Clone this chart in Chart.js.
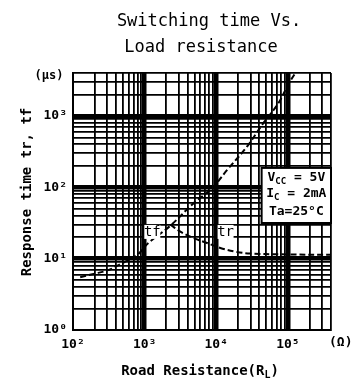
<!DOCTYPE html>
<html>
<head>
<meta charset="utf-8">
<script src="https://cdn.jsdelivr.net/npm/chart.js@4.4.0/dist/chart.umd.min.js"></script>
<style>
  html, body { margin: 0; padding: 0; background: #fff; }
  #wrap { width: 352px; height: 381px; position: relative; }
</style>
</head>
<body>
<div id="wrap"><canvas id="chart"></canvas></div>
<script>
// values: load resistance (ohm) vs response time (us)
const tfResistance = [126, 193, 311, 458, 791, 1130, 2290, 4830, 8730, 14200, 26900, 43600, 74000, 100000, 127000];
const tfTime = [5.5, 6.1, 6.9, 8.4, 11.3, 16.6, 29, 60, 97, 175, 372, 750, 1520, 2700, 4000];
const trResistance = [2290, 3160, 4790, 7430, 11400, 19500, 30000, 80000, 400000];
const trTime = [30, 23.9, 19.5, 16.6, 14.1, 12.4, 11.8, 11.5, 11.3];

const xRange = [100, 400000];
const yRange = [1, 4000];
const xTickLabels = {100: '10²', 1000: '10³', 10000: '10⁴', 100000: '10⁵'};
const yTickLabels = {1: '10⁰', 10: '10¹', 100: '10²', 1000: '10³'};

const MONO = '"DejaVu Sans Mono", monospace';

function isDecade(v) {
    const l = Math.log10(v);
    return Math.abs(l - Math.round(l)) < 1e-9;
}

// 1..9 x 10^n grid, like the printed log paper
function logPaperTicks(min, max) {
    const ticks = [];
    for (let e = Math.floor(Math.log10(min)); Math.pow(10, e) <= max; e++) {
        for (let m = 1; m <= 9; m++) {
            const v = m * Math.pow(10, e);
            if (v >= min && v <= max * 1.0001) ticks.push({value: v});
        }
    }
    return ticks;
}

function gridWidth(min) {
    return (c) => (c.tick && isDecade(c.tick.value) && c.tick.value !== min) ? 4.5 : 1.8;
}

// draws text pieces, some as subscripts, centred on cx
function drawRich(ctx, parts, cx, cy, size, weight) {
    const fontMain = weight + ' ' + size + 'px ' + MONO;
    const fontSub = weight + ' ' + Math.round(size * 0.7) + 'px ' + MONO;
    let total = 0;
    parts.forEach(p => {
        ctx.font = p[1] ? fontSub : fontMain;
        total += ctx.measureText(p[0]).width;
    });
    let x = cx - total / 2;
    ctx.textAlign = 'left';
    ctx.textBaseline = 'middle';
    parts.forEach(p => {
        ctx.font = p[1] ? fontSub : fontMain;
        ctx.fillText(p[0], x, p[1] ? cy + size * 0.3 : cy);
        x += ctx.measureText(p[0]).width;
    });
}

const textPlugin = {
    id: 'texts',
    afterDraw(chart) {
        const ctx = chart.ctx;
        const xs = chart.scales.x, ys = chart.scales.y;
        const area = chart.chartArea;
        ctx.save();
        ctx.fillStyle = '#000';

        ctx.font = '17px ' + MONO;
        ctx.textAlign = 'center';
        ctx.textBaseline = 'middle';
        ctx.fillText('Switching time Vs.', 209, 22);
        ctx.fillText('Load resistance', 201, 48);

        ctx.font = 'bold 12px ' + MONO;
        ctx.fillText('(µs)', 49, 76);
        ctx.textAlign = 'left';
        ctx.font = 'bold 13px ' + MONO;
        ctx.fillText('(Ω)', 329, 343);

        ctx.save();
        ctx.translate(27, 192);
        ctx.rotate(-Math.PI / 2);
        ctx.font = 'bold 14px ' + MONO;
        ctx.textAlign = 'center';
        ctx.fillText('Response time tr, tf', 0, 0);
        ctx.restore();

        drawRich(ctx, [['Road Resistance(R', false], ['L', true], [')', false]], 200, 371, 14, 'bold');

        // curve labels
        ctx.font = '14px ' + MONO;
        ctx.textAlign = 'center';
        [['tf', 1280], ['tr', 13500]].forEach(l => {
            const px = xs.getPixelForValue(l[1]), py = ys.getPixelForValue(23.7);
            ctx.fillStyle = '#fff';
            ctx.fillRect(px - 8, py - 7, 16, 14);
            ctx.fillStyle = '#000';
            ctx.fillText(l[0], px, py);
        });

        // test condition box
        const bx = xs.getPixelForValue(43000), by = ys.getPixelForValue(187);
        const bb = ys.getPixelForValue(31.6);
        ctx.fillStyle = '#fff';
        ctx.fillRect(bx, by, area.right - bx, bb - by);
        ctx.strokeStyle = '#000';
        ctx.lineWidth = 2;
        ctx.strokeRect(bx, by, area.right - bx, bb - by);
        ctx.fillStyle = '#000';
        const cx = (bx + area.right) / 2;
        drawRich(ctx, [['V', false], ['CC', true], [' = 5V', false]], cx, by + 10, 13, 'bold');
        drawRich(ctx, [['I', false], ['C', true], [' = 2mA', false]], cx, by + 26, 13, 'bold');
        drawRich(ctx, [['Ta=25°C', false]], cx, by + 44, 13, 'bold');
        ctx.restore();
    }
};

const lineStyle = {
    borderColor: '#000',
    borderWidth: 2,
    borderDash: [6, 3],
    pointRadius: 0,
    tension: 0.35,
    fill: false
};

const ctx = document.getElementById('chart').getContext('2d');
const chart = new Chart(ctx, {
    type: 'line',
    data: {
        datasets: [
            Object.assign({label: 'tf', data: tfResistance.map((r, i) => ({x: r, y: tfTime[i]}))}, lineStyle),
            Object.assign({label: 'tr', data: trResistance.map((r, i) => ({x: r, y: trTime[i]}))}, lineStyle)
        ]
    },
    options: {
        responsive: true,
        maintainAspectRatio: false,
        animation: false,
        layout: {padding: {top: 73, right: 21, left: 0, bottom: 0}},
        plugins: {legend: {display: false}, tooltip: {enabled: false}, title: {display: false}},
        scales: {
            x: {
                type: 'logarithmic',
                min: xRange[0],
                max: xRange[1],
                afterBuildTicks: (s) => { s.ticks = logPaperTicks(xRange[0], xRange[1]); },
                afterFit: (s) => { s.height = 51; },
                grid: {color: '#000', lineWidth: gridWidth(xRange[0]), drawTicks: false},
                border: {display: true, color: '#000', width: 2},
                ticks: {
                    autoSkip: false, maxRotation: 0, padding: 7, color: '#000',
                    font: {family: MONO, size: 13, weight: 'bold'},
                    callback: (v) => xTickLabels[v] || ''
                }
            },
            y: {
                type: 'logarithmic',
                min: yRange[0],
                max: yRange[1],
                afterBuildTicks: (s) => { s.ticks = logPaperTicks(yRange[0], yRange[1]); },
                afterFit: (s) => { s.width = 73; },
                grid: {color: '#000', lineWidth: gridWidth(yRange[0]), drawTicks: false},
                border: {display: true, color: '#000', width: 2},
                ticks: {
                    autoSkip: false, padding: 6, color: '#000',
                    font: {family: MONO, size: 13, weight: 'bold'},
                    callback: (v) => yTickLabels[v] || ''
                }
            }
        }
    },
    plugins: [textPlugin]
});
</script>
</body>
</html>
